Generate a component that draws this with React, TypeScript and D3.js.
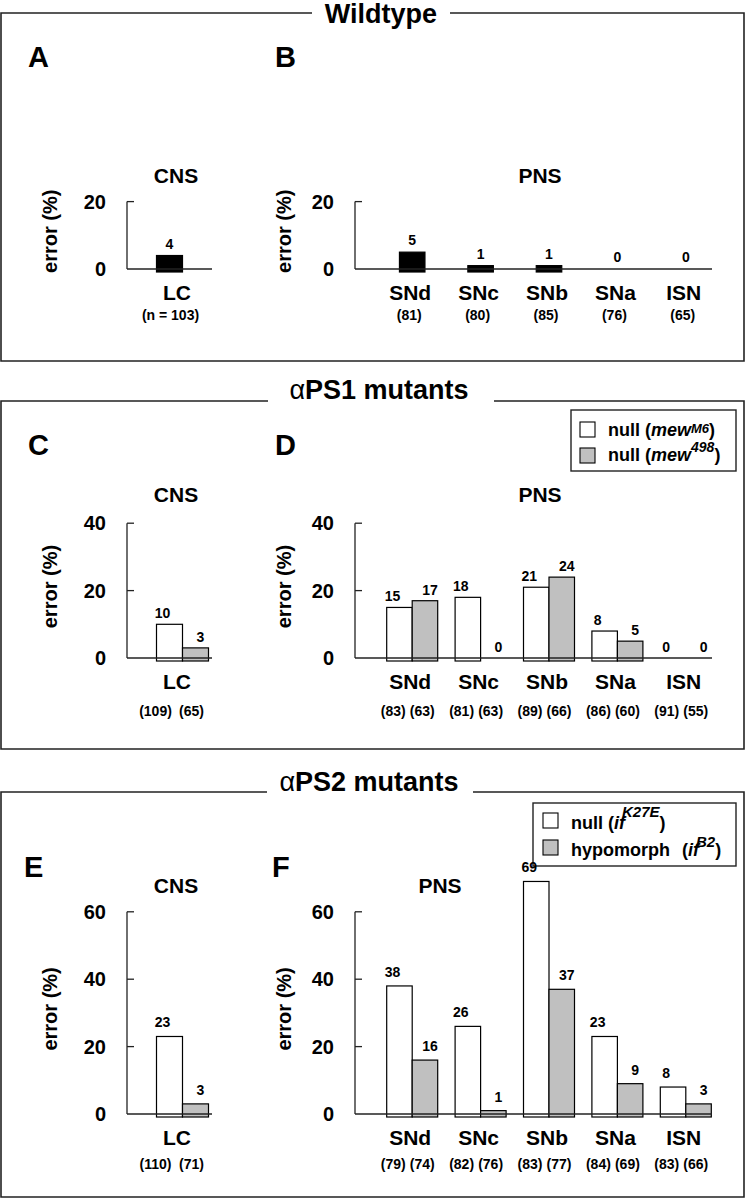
import React from "react";
import * as d3 from "d3";

const FONT = "'Liberation Sans', Arial, Helvetica, sans-serif";

// ---------- data ----------
const cnsCategories = ["LC"];
const pnsCategories = ["SNd", "SNc", "SNb", "SNa", "ISN"];

const wtTicks = [0, 20];
const ps1Ticks = [0, 20, 40];
const ps2Ticks = [0, 20, 40, 60];

// Wildtype
const wtCnsValues = [4];
const wtPnsValues = [5, 1, 1, 0, 0];
const wtCnsCounts = [103];
const wtPnsCounts = [81, 80, 85, 76, 65];

// alphaPS1 mutants: null (mew M6), null (mew 498)
const ps1CnsM6 = [10];
const ps1Cns498 = [3];
const ps1PnsM6 = [15, 18, 21, 8, 0];
const ps1Pns498 = [17, 0, 24, 5, 0];
const ps1CnsCountsM6 = [109];
const ps1CnsCounts498 = [65];
const ps1PnsCountsM6 = [83, 81, 89, 86, 91];
const ps1PnsCounts498 = [63, 63, 66, 60, 55];

// alphaPS2 mutants: null (if K27E), hypomorph (if B2)
const ps2CnsK27E = [23];
const ps2CnsB2 = [3];
const ps2PnsK27E = [38, 26, 69, 23, 8];
const ps2PnsB2 = [16, 1, 37, 9, 3];
const ps2CnsCountsK27E = [110];
const ps2CnsCountsB2 = [71];
const ps2PnsCountsK27E = [79, 82, 83, 84, 83];
const ps2PnsCountsB2 = [74, 76, 77, 69, 66];

// ---------- styles ----------
const BLACK = "#000000";
const WHITE = "#ffffff";
const GRAY = "#c0c0c0";
const LINE = "#222222";
const PX_PER_UNIT = 3.37;

type Series = { values: number[]; counts: number[]; fill: string };

type ChartProps = {
  kind: "cns" | "pns";
  cats: string[];
  series: Series[];
  ticks: number[];
  y0: number;
  axisX0: number;
  axisX1: number;
  bandRange: [number, number];
  yLabelX: number;
  countDy: number;
  labelGap: number;
  countPrefix?: string;
};

function Chart(p: ChartProps) {
  const maxT = p.ticks[p.ticks.length - 1];
  const y = d3.scaleLinear().domain([0, maxT]).range([p.y0, p.y0 - maxT * PX_PER_UNIT]);
  const x = d3.scaleBand<string>().domain(p.cats).range(p.bandRange);
  const bw = p.kind === "cns" ? 26 : 25.5;
  const n = p.series.length;
  const center = (c: string) => (x(c) as number) + x.bandwidth() / 2;
  const barX = (c: string, si: number) => {
    const cx = center(c);
    if (n === 1) return cx - bw / 2;
    if (p.kind === "cns") return cx - bw / 2 + si * bw;
    return cx - bw + si * bw;
  };
  const valDx = (si: number) => (n === 1 ? 0 : si === 0 ? -7 : 5);
  const countDx = (si: number) => {
    if (n === 1) return p.kind === "cns" ? 1 : -3;
    if (p.kind === "cns") return si === 0 ? -14 : 22;
    return si === 0 ? -19 : 10;
  };
  const catDx = p.kind === "cns" ? 7.5 : -2;
  const yTop = y(maxT);
  const yLabelCY = (yTop + p.y0) / 2 - 4;

  return (
    <g fontFamily={FONT} fontWeight="bold">
      <text
        transform={`translate(${p.yLabelX},${yLabelCY}) rotate(-90)`}
        textAnchor="middle"
        fontSize={20}
        fill={BLACK}
      >
        error (%)
      </text>
      <line x1={p.axisX0} x2={p.axisX0} y1={yTop} y2={p.y0} stroke={LINE} strokeWidth={1.3} />
      {p.ticks.map((t) => (
        <g key={t}>
          {t > 0 && (
            <line x1={p.axisX0} x2={p.axisX0 + 7} y1={y(t)} y2={y(t)} stroke={LINE} strokeWidth={1.3} />
          )}
          <text x={p.axisX0 - 21} y={y(t) + 7} textAnchor="end" fontSize={20} fill={BLACK}>
            {t}
          </text>
        </g>
      ))}
      {p.series.map((s, si) =>
        p.cats.map((c, ci) =>
          s.values[ci] > 0 ? (
            <rect
              key={`b${si}-${ci}`}
              x={barX(c, si)}
              y={y(s.values[ci])}
              width={bw}
              height={p.y0 + 3 - y(s.values[ci])}
              fill={s.fill}
              stroke={BLACK}
              strokeWidth={1.2}
            />
          ) : null
        )
      )}
      <line x1={p.axisX0} x2={p.axisX1} y1={p.y0} y2={p.y0} stroke={LINE} strokeWidth={1.5} />
      {p.series.map((s, si) =>
        p.cats.map((c, ci) => (
          <text
            key={`v${si}-${ci}`}
            x={barX(c, si) + bw / 2 + valDx(si)}
            y={y(s.values[ci]) - p.labelGap}
            textAnchor="middle"
            fontSize={14}
            fill={BLACK}
          >
            {s.values[ci]}
          </text>
        ))
      )}
      {p.cats.map((c) => (
        <text key={`c${c}`} x={center(c) + catDx} y={p.y0 + 31} textAnchor="middle" fontSize={21} fill={BLACK}>
          {c}
        </text>
      ))}
      {p.series.map((s, si) =>
        p.cats.map((c, ci) => (
          <text
            key={`n${si}-${ci}`}
            x={center(c) + countDx(si)}
            y={p.y0 + p.countDy}
            textAnchor="middle"
            fontSize={14}
            fill={BLACK}
          >
            {`(${p.countPrefix ?? ""}${s.counts[ci]})`}
          </text>
        ))
      )}
    </g>
  );
}

type FrameProps = { top: number; bottom: number; gapL: number; gapR: number };

function Frame({ top, bottom, gapL, gapR }: FrameProps) {
  const l = 1;
  const r = 744;
  const d = `M${gapL},${top} L${l},${top} L${l},${bottom} L${r},${bottom} L${r},${top} L${gapR},${top}`;
  return <path d={d} fill="none" stroke={LINE} strokeWidth={1.6} />;
}

const CNS_AXIS: [number, number] = [127, 212];
const PNS_AXIS: [number, number] = [355, 712];
const CNS_BAND: [number, number] = [135, 204];
const PNS_BAND: [number, number] = [378, 720];

export default function App() {
  return (
    <div style={{ position: "absolute", left: 0, top: 0, width: 745, height: 1199, background: "#fff" }}>
      <svg width={745} height={1199} viewBox="0 0 745 1199" style={{ display: "block" }}>
        <rect x={0} y={0} width={745} height={1199} fill="#fff" />

        {/* ================= Wildtype ================= */}
        <Frame top={13} bottom={361} gapL={312} gapR={450} />
        <text x={381} y={23} textAnchor="middle" fontFamily={FONT} fontWeight="bold" fontSize={27}>
          Wildtype
        </text>
        <text x={28} y={67} fontFamily={FONT} fontWeight="bold" fontSize={29}>A</text>
        <text x={275} y={67} fontFamily={FONT} fontWeight="bold" fontSize={29}>B</text>
        <text x={176} y={183} textAnchor="middle" fontFamily={FONT} fontWeight="bold" fontSize={21}>CNS</text>
        <text x={540} y={183} textAnchor="middle" fontFamily={FONT} fontWeight="bold" fontSize={21}>PNS</text>
        <Chart
          kind="cns"
          cats={cnsCategories}
          series={[{ values: wtCnsValues, counts: wtCnsCounts, fill: BLACK }]}
          ticks={wtTicks}
          y0={269}
          axisX0={CNS_AXIS[0]}
          axisX1={CNS_AXIS[1]}
          bandRange={CNS_BAND}
          yLabelX={57}
          countDy={51}
          labelGap={7}
          countPrefix="n = "
        />
        <Chart
          kind="pns"
          cats={pnsCategories}
          series={[{ values: wtPnsValues, counts: wtPnsCounts, fill: BLACK }]}
          ticks={wtTicks}
          y0={269}
          axisX0={PNS_AXIS[0]}
          axisX1={PNS_AXIS[1]}
          bandRange={PNS_BAND}
          yLabelX={291}
          countDy={51}
          labelGap={7}
        />

        {/* ================= alphaPS1 ================= */}
        <Frame top={401} bottom={749} gapL={268} gapR={494} />
        <text x={379} y={399} textAnchor="middle" fontFamily={FONT} fontWeight="bold" fontSize={27}>
          <tspan fontWeight="normal">α</tspan>PS1 mutants
        </text>
        <text x={28} y={455} fontFamily={FONT} fontWeight="bold" fontSize={29}>C</text>
        <text x={275} y={455} fontFamily={FONT} fontWeight="bold" fontSize={29}>D</text>
        <text x={176} y={502} textAnchor="middle" fontFamily={FONT} fontWeight="bold" fontSize={21}>CNS</text>
        <text x={540} y={502} textAnchor="middle" fontFamily={FONT} fontWeight="bold" fontSize={21}>PNS</text>
        <g fontFamily={FONT} fontWeight="bold" fontSize={18}>
          <rect x={571} y={410} width={165} height={61} fill="#fff" stroke={LINE} strokeWidth={1.4} />
          <rect x={580} y={422} width={15} height={15} fill={WHITE} stroke={BLACK} strokeWidth={1.1} />
          <rect x={580} y={448} width={15} height={15} fill={GRAY} stroke={BLACK} strokeWidth={1.1} />
          <text x={608} y={436}>
            null (<tspan fontStyle="italic">mew</tspan>
            <tspan fontStyle="italic" fontSize={13} dy={-3}>M6</tspan>
            <tspan dy={3}>)</tspan>
          </text>
          <text x={608} y={461}>
            null (<tspan fontStyle="italic">mew</tspan>
            <tspan fontStyle="italic" fontSize={14} dy={-9}>498</tspan>
            <tspan dy={9}>)</tspan>
          </text>
        </g>
        <Chart
          kind="cns"
          cats={cnsCategories}
          series={[
            { values: ps1CnsM6, counts: ps1CnsCountsM6, fill: WHITE },
            { values: ps1Cns498, counts: ps1CnsCounts498, fill: GRAY },
          ]}
          ticks={ps1Ticks}
          y0={658}
          axisX0={CNS_AXIS[0]}
          axisX1={CNS_AXIS[1]}
          bandRange={CNS_BAND}
          yLabelX={57}
          countDy={58}
          labelGap={6}
        />
        <Chart
          kind="pns"
          cats={pnsCategories}
          series={[
            { values: ps1PnsM6, counts: ps1PnsCountsM6, fill: WHITE },
            { values: ps1Pns498, counts: ps1PnsCounts498, fill: GRAY },
          ]}
          ticks={ps1Ticks}
          y0={658}
          axisX0={PNS_AXIS[0]}
          axisX1={PNS_AXIS[1]}
          bandRange={PNS_BAND}
          yLabelX={291}
          countDy={58}
          labelGap={6}
        />

        {/* ================= alphaPS2 ================= */}
        <Frame top={792} bottom={1197} gapL={267} gapR={473} />
        <text x={369} y={791} textAnchor="middle" fontFamily={FONT} fontWeight="bold" fontSize={27}>
          <tspan fontWeight="normal">α</tspan>PS2 mutants
        </text>
        <text x={24} y={877} fontFamily={FONT} fontWeight="bold" fontSize={29}>E</text>
        <text x={272} y={877} fontFamily={FONT} fontWeight="bold" fontSize={29}>F</text>
        <text x={176} y={893} textAnchor="middle" fontFamily={FONT} fontWeight="bold" fontSize={21}>CNS</text>
        <text x={440} y={893} textAnchor="middle" fontFamily={FONT} fontWeight="bold" fontSize={21}>PNS</text>
        <g fontFamily={FONT} fontWeight="bold" fontSize={18}>
          <rect x={533} y={803} width={203} height={63} fill="#fff" stroke={LINE} strokeWidth={1.4} />
          <rect x={543} y={813} width={15} height={15} fill={WHITE} stroke={BLACK} strokeWidth={1.1} />
          <rect x={543} y={840} width={15} height={15} fill={GRAY} stroke={BLACK} strokeWidth={1.1} />
          <text x={571} y={829}>
            null (<tspan fontStyle="italic">if</tspan>
            <tspan fontStyle="italic" fontSize={15} dy={-12} dx={-3}>K27E</tspan>
            <tspan dy={12}>)</tspan>
          </text>
          <text x={571} y={856}>
            hypomorph<tspan dx={12}>(</tspan>
            <tspan fontStyle="italic">if</tspan>
            <tspan fontStyle="italic" fontSize={15} dy={-9} dx={-3}>B2</tspan>
            <tspan dy={9}>)</tspan>
          </text>
        </g>
        <Chart
          kind="cns"
          cats={cnsCategories}
          series={[
            { values: ps2CnsK27E, counts: ps2CnsCountsK27E, fill: WHITE },
            { values: ps2CnsB2, counts: ps2CnsCountsB2, fill: GRAY },
          ]}
          ticks={ps2Ticks}
          y0={1114}
          axisX0={CNS_AXIS[0]}
          axisX1={CNS_AXIS[1]}
          bandRange={CNS_BAND}
          yLabelX={57}
          countDy={55}
          labelGap={9}
        />
        <Chart
          kind="pns"
          cats={pnsCategories}
          series={[
            { values: ps2PnsK27E, counts: ps2PnsCountsK27E, fill: WHITE },
            { values: ps2PnsB2, counts: ps2PnsCountsB2, fill: GRAY },
          ]}
          ticks={ps2Ticks}
          y0={1114}
          axisX0={PNS_AXIS[0]}
          axisX1={PNS_AXIS[1]}
          bandRange={PNS_BAND}
          yLabelX={291}
          countDy={55}
          labelGap={9}
        />
      </svg>
    </div>
  );
}
